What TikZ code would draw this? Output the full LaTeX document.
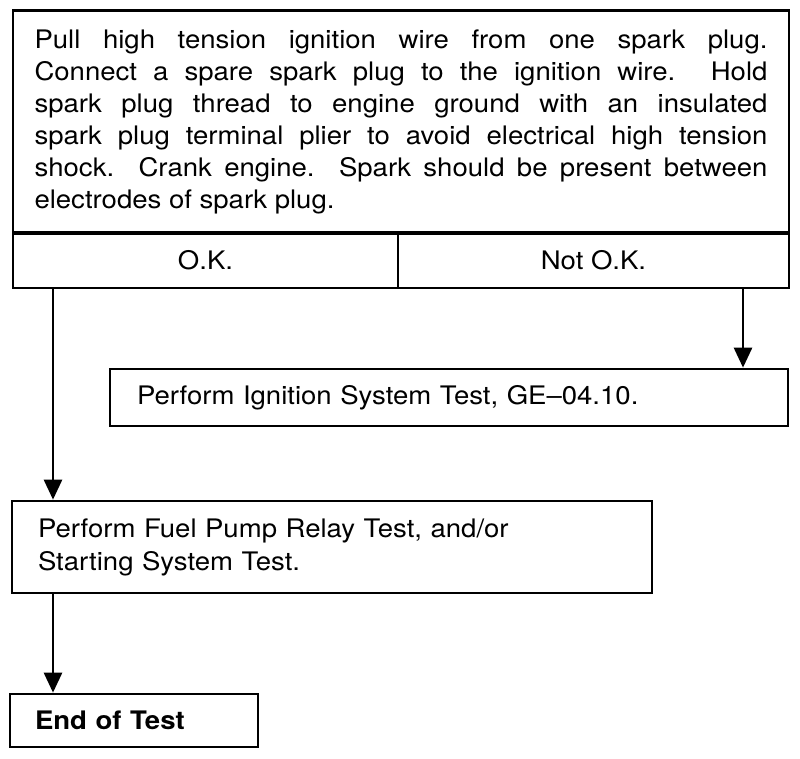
\documentclass[tikz,border=0pt]{standalone}
\usepackage{fontspec}
\setmainfont[FakeStretch=1.08]{TeX Gyre Heros}
\usetikzlibrary{arrows.meta}
\tikzset{
  box/.style={draw=black, line width=2.7pt, rectangle, inner ysep=0pt, font=\fontsize{25.5}{33}\selectfont},
  arr/.style={draw=black, line width=2.7pt, -{Triangle[width=18pt,length=20pt]}},
}
\begin{document}
\begin{tikzpicture}[x=1pt,y=-1pt]
\useasboundingbox[fill=white] (0,0) rectangle (800,758);
\node[box, minimum width=776pt, minimum height=223pt, inner xsep=21.5pt, text width=733pt, align=justify, font=\fontsize{25.5}{32}\selectfont] (main) at (401,122)
{Pull high tension ignition wire from one spark plug.\linebreak
Connect a spare spark plug to the ignition wire.  Hold\linebreak
spark plug thread to engine ground with an insulated\linebreak
spark plug terminal plier to avoid electrical high tension\linebreak
shock.  Crank engine.  Spark should be present between\linebreak
electrodes of spark plug.};
\node[box, minimum width=385pt, minimum height=56pt] (ok) at (205.5,260) {O.K.};
\node[box, minimum width=391pt, minimum height=56pt] (notok) at (593.5,260) {Not O.K.};
\node[box, minimum width=678pt, minimum height=57pt, inner xsep=27pt, text width=624pt, align=left] (ign) at (449,397.5) {Perform Ignition System Test, GE--04.10.};
\node[box, minimum width=640pt, minimum height=92pt, inner xsep=26pt, text width=588pt, align=left] (fuel) at (332,547) {Perform Fuel Pump Relay Test, and/or\\Starting System Test.};
\node[box, minimum width=248pt, minimum height=53pt, inner xsep=25pt, text width=198pt, align=left] (end) at (134,720.5) {\bfseries End of Test};
\coordinate (lx) at (53,0);
\coordinate (rx) at (743,0);
\draw[arr] (ok.south -| lx) -- (fuel.north -| lx);
\draw[arr] (notok.south -| rx) -- (ign.north -| rx);
\draw[arr] (fuel.south -| lx) -- (end.north -| lx);
\end{tikzpicture}
\end{document}
